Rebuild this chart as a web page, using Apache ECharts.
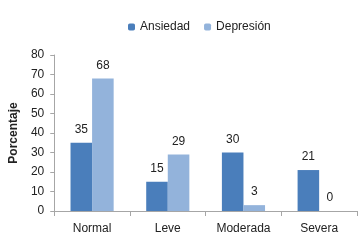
<!DOCTYPE html>
<html lang="es">
	<head>
		<meta charset="UTF-8" />
		<title>Porcentaje</title>
		<script src="https://cdn.jsdelivr.net/npm/echarts@6/dist/echarts.min.js"></script>
		<style>
			body { margin: 0; background: #fff; }
		</style>
	</head>
	<body>
		<div id="main" style="width: 364px; height: 251px"></div>
		<script type="text/javascript">
			// Data
			const categories = ["Normal", "Leve", "Moderada", "Severa"];
			const ansiedad = [35, 15, 30, 21];
			const depresion = [68, 29, 3, 0];
			const yTicks = { min: 0, max: 80, interval: 10 };

			const font = "Liberation Sans, Arial, sans-serif";
			let myChart = echarts.init(document.getElementById("main"));

			let options = {
				animation: false,
				textStyle: { fontFamily: font },
				legend: {
					top: 16,
					left: 123,
					itemWidth: 7,
					itemHeight: 7,
					itemGap: 14,
					textStyle: { fontSize: 12, color: "#222", fontFamily: font },
					data: ["Ansiedad", "Depresión"],
				},
				grid: { left: 47, right: 7, top: 55, bottom: 40 },
				xAxis: {
					type: "category",
					data: categories,
					axisLine: { lineStyle: { color: "#a6a6a6" } },
					axisTick: { show: true, alignWithLabel: false, length: 5, lineStyle: { color: "#a6a6a6" } },
					axisLabel: { color: "#222", fontSize: 12, margin: 12, fontFamily: font },
				},
				yAxis: {
					type: "value",
					min: yTicks.min,
					max: yTicks.max,
					interval: yTicks.interval,
					name: "Porcentaje",
					nameLocation: "middle",
					nameGap: 31,
					nameTextStyle: { fontWeight: "bold", fontSize: 12, color: "#222", fontFamily: font },
					axisLine: { show: true, lineStyle: { color: "#a6a6a6" } },
					axisTick: { show: true, length: 4, lineStyle: { color: "#a6a6a6" } },
					splitLine: { show: false },
					axisLabel: { color: "#222", fontSize: 12, margin: 10, fontFamily: font },
				},
				series: [
					{
						name: "Ansiedad",
						type: "bar",
						data: ansiedad,
						barGap: "0%",
						barCategoryGap: "43%",
						itemStyle: { color: "#4a7ebb" },
						label: { show: true, position: "top", distance: 7, color: "#222", fontSize: 12 },
					},
					{
						name: "Depresión",
						type: "bar",
						data: depresion,
						itemStyle: { color: "#93b3db" },
						label: { show: true, position: "top", distance: 7, color: "#222", fontSize: 12 },
					},
				],
			};
			myChart.setOption(options);
		</script>
	</body>
</html>
